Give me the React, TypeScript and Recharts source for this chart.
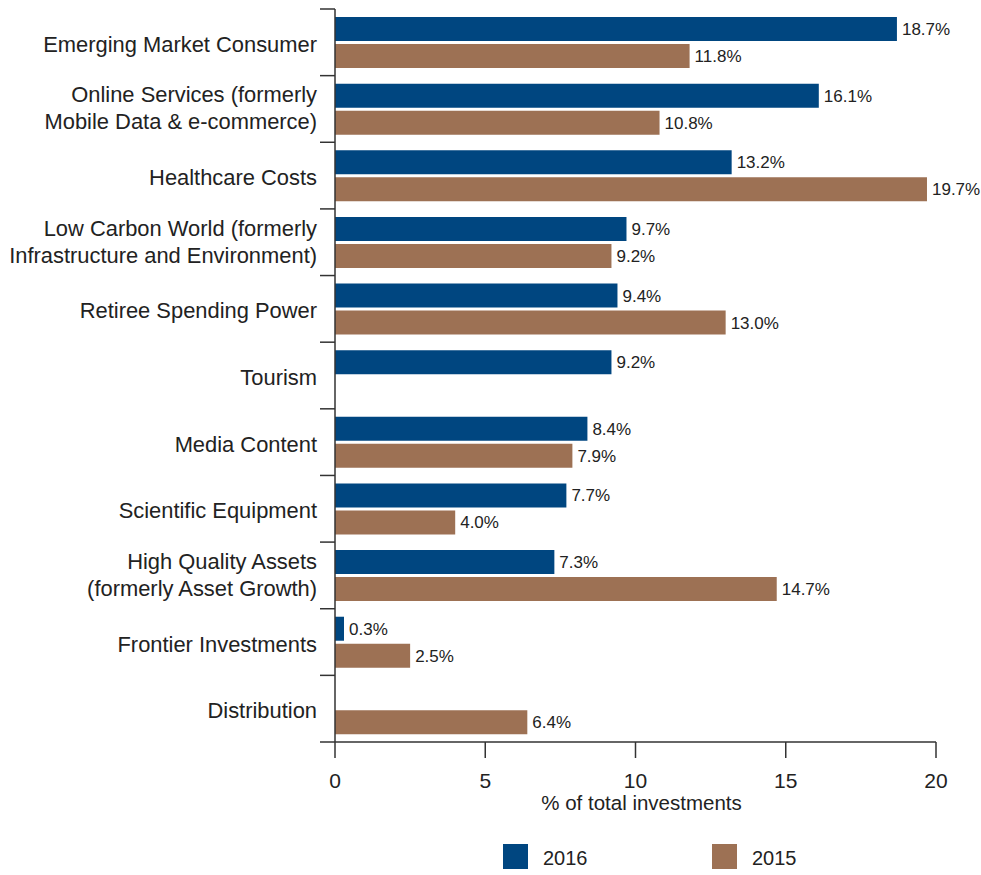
import React from 'react';
import { BarChart, Bar, XAxis, YAxis, LabelList, Legend, Label } from 'recharts';

const categories = [
  'Emerging Market Consumer',
  'Online Services (formerly\nMobile Data & e-commerce)',
  'Healthcare Costs',
  'Low Carbon World (formerly\nInfrastructure and Environment)',
  'Retiree Spending Power',
  'Tourism',
  'Media Content',
  'Scientific Equipment',
  'High Quality Assets\n(formerly Asset Growth)',
  'Frontier Investments',
  'Distribution',
];
const values2016: (number | null)[] = [18.7, 16.1, 13.2, 9.7, 9.4, 9.2, 8.4, 7.7, 7.3, 0.3, null];
const values2015: (number | null)[] = [11.8, 10.8, 19.7, 9.2, 13.0, null, 7.9, 4.0, 14.7, 2.5, 6.4];
const xTicks = [0, 5, 10, 15, 20];
const seriesNames = ['2016', '2015'];

const BLUE = '#004680';
const BROWN = '#9D7154';
const TEXT = '#222222';
const AXIS = '#333333';
const FONT = '"Liberation Sans", Arial, Helvetica, sans-serif';

const data = categories.map((c, i) => ({ name: c, y2016: values2016[i], y2015: values2015[i] }));

const fmt = (v: any) => (v === null || v === undefined ? '' : `${Number(v).toFixed(1)}%`);

const CategoryTick = (props: any) => {
  const { x, y, payload, index } = props;
  const half = payload && payload.offset ? payload.offset : 33.32;
  const lines = String(payload.value).split('\n');
  const isLast = index === categories.length - 1;
  return (
    <g>
      <line x1={x + 3} x2={x + 18} y1={y - half} y2={y - half} stroke={AXIS} strokeWidth={1.5} />
      {isLast && <line x1={x + 3} x2={x + 18} y1={y + half} y2={y + half} stroke={AXIS} strokeWidth={1.5} />}
      <text x={x} y={y} textAnchor="end" fontSize={21.9} fill={TEXT} fontFamily={FONT}>
        {lines.length === 1 ? (
          <tspan x={x} dy={9.5}>{lines[0]}</tspan>
        ) : (
          lines.map((l, i) => (
            <tspan key={i} x={x} dy={i === 0 ? -6.5 : 27}>{l}</tspan>
          ))
        )}
      </text>
    </g>
  );
};

const LegendContent = () => (
  <div style={{ position: 'relative', width: 981, height: 45, fontFamily: FONT }}>
    {[{ c: BLUE, left: 503 }, { c: BROWN, left: 712 }].map((it, i) => (
      <React.Fragment key={i}>
        <div style={{ position: 'absolute', left: it.left, top: 14, width: 25, height: 25, background: it.c }} />
        <div style={{ position: 'absolute', left: it.left + 40, top: 14, fontSize: 20, lineHeight: '28px', color: TEXT }}>{seriesNames[i]}</div>
      </React.Fragment>
    ))}
  </div>
);

export default function App() {
  return (
    <div style={{ position: 'absolute', left: 0, top: 0, width: 981, height: 875, background: '#fff' }}>
      <BarChart
        width={981}
        height={875}
        data={data}
        layout="vertical"
        margin={{ top: 9, right: 45, left: 0, bottom: 0 }}
        barSize={24}
        barGap={3}
      >
        <XAxis
          type="number"
          domain={[0, 20]}
          ticks={xTicks}
          height={88}
          tickSize={16}
          tickMargin={15}
          axisLine={{ stroke: AXIS, strokeWidth: 1.5 }}
          tickLine={{ stroke: AXIS, strokeWidth: 1.5 }}
          tick={{ fontSize: 21, fill: TEXT, fontFamily: FONT }}
          interval={0}
        >
          <Label value="% of total investments" position="insideTop" offset={53} dx={6} fontSize={20.5} fill={TEXT} fontFamily={FONT} />
        </XAxis>
        <YAxis
          type="category"
          dataKey="name"
          width={335}
          tickSize={15}
          tickMargin={3}
          tickLine={false}
          axisLine={{ stroke: AXIS, strokeWidth: 1.5 }}
          tick={<CategoryTick />}
          interval={0}
        />
        <Legend verticalAlign="bottom" content={<LegendContent />} wrapperStyle={{ left: 0, width: 981, height: 45 }} />
        <Bar dataKey="y2016" name="2016" fill={BLUE} isAnimationActive={false}>
          <LabelList dataKey="y2016" position="right" offset={5} formatter={fmt} fontSize={17} fill={TEXT} fontFamily={FONT} />
        </Bar>
        <Bar dataKey="y2015" name="2015" fill={BROWN} isAnimationActive={false}>
          <LabelList dataKey="y2015" position="right" offset={5} formatter={fmt} fontSize={17} fill={TEXT} fontFamily={FONT} />
        </Bar>
      </BarChart>
    </div>
  );
}
